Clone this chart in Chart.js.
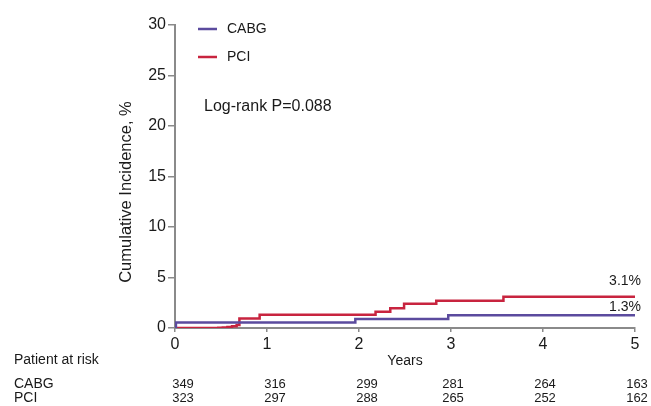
<!DOCTYPE html>
<html>
<head>
<meta charset="utf-8">
<script src="https://cdn.jsdelivr.net/npm/chart.js@4.4.1/dist/chart.umd.min.js"></script>
<style>
  html, body { margin: 0; padding: 0; background: #fff; }
  #wrap { width: 651px; height: 406px; position: relative; }
</style>
</head>
<body>
<div id="wrap"><canvas id="c" width="651" height="406"></canvas></div>
<script>
// ---- data ----
const seriesNames = ["CABG", "PCI"];
// Kaplan-Meier style cumulative incidence: [year, cumulative %] (value after that time)
const cabgTimes  = [0, 0.01, 1.96, 2.97, 5];
const cabgValues = [0, 0.55, 0.9, 1.27, 1.27];
const pciTimes   = [0, 0.41, 0.47, 0.52, 0.57, 0.62, 0.67, 0.70, 0.92, 2.18, 2.34, 2.49, 2.84, 3.57, 5];
const pciValues  = [0, 0.0, 0.02, 0.05, 0.1, 0.17, 0.3, 0.95, 1.3, 1.6, 1.95, 2.4, 2.7, 3.1, 3.1];
const yTicks = [0, 5, 10, 15, 20, 25, 30];
const xTicks = [0, 1, 2, 3, 4, 5];
const atRiskCABG = [349, 316, 299, 281, 264, 163];
const atRiskPCI  = [323, 297, 288, 265, 252, 162];
const endLabels = ["1.3%", "3.1%"];
const pValueText = "Log-rank P=0.088";

const colors = ["#5b4b9e", "#c8243f"];
const FONT = "'Liberation Sans', Arial, Helvetica, sans-serif";

function toPoints(ts, vs) { return ts.map((t, i) => ({ x: t, y: vs[i] })); }

const overlay = {
  id: 'overlay',
  afterDraw(chart) {
    const ctx = chart.ctx;
    const xs = chart.scales.x;
    ctx.save();
    ctx.fillStyle = '#1a1a1a';
    // legend
    ctx.font = '14px ' + FONT;
    ctx.textBaseline = 'middle';
    ctx.textAlign = 'left';
    const legY = [29, 57];
    chart.data.datasets.forEach((ds, i) => {
      ctx.strokeStyle = ds.borderColor;
      ctx.lineWidth = 2.5;
      ctx.beginPath();
      ctx.moveTo(198, legY[i]);
      ctx.lineTo(217, legY[i]);
      ctx.stroke();
      ctx.fillText(ds.label, 227, legY[i]);
    });
    // log-rank
    ctx.font = '16px ' + FONT;
    ctx.fillText(pValueText, 204, 107);
    // end labels
    ctx.font = '14px ' + FONT;
    ctx.textAlign = 'right';
    ctx.fillText(endLabels[1], 641, 281);
    ctx.fillText(endLabels[0], 641, 307);
    // y title
    ctx.save();
    ctx.translate(126, 192);
    ctx.rotate(-Math.PI / 2);
    ctx.textAlign = 'center';
    ctx.font = '16.5px ' + FONT;
    ctx.fillText('Cumulative Incidence, %', 0, 0);
    ctx.restore();
    // x title
    ctx.textAlign = 'center';
    ctx.font = '14px ' + FONT;
    ctx.fillText('Years', (xs.left + xs.right) / 2, 361);
    // at-risk table
    ctx.textAlign = 'left';
    ctx.fillText('Patient at risk', 14, 360);
    ctx.fillText(seriesNames[0], 14, 384);
    ctx.fillText(seriesNames[1], 14, 398);
    ctx.textAlign = 'center';
    ctx.font = '13px ' + FONT;
    xTicks.forEach((t, i) => {
      const px = xs.getPixelForValue(t) + (i < 3 ? 8 : 2);
      ctx.fillText(String(atRiskCABG[i]), px, 384);
      ctx.fillText(String(atRiskPCI[i]), px, 398);
    });
    ctx.restore();
  }
};

new Chart(document.getElementById('c'), {
  type: 'line',
  data: {
    datasets: [
      { label: seriesNames[0], data: toPoints(cabgTimes, cabgValues), borderColor: colors[0],
        borderWidth: 2.5, pointRadius: 0, stepped: 'before', fill: false },
      { label: seriesNames[1], data: toPoints(pciTimes, pciValues), borderColor: colors[1],
        borderWidth: 2.5, pointRadius: 0, stepped: 'before', fill: false }
    ]
  },
  options: {
    responsive: false,
    animation: false,
    layout: { padding: { left: 0, right: 16, top: 25, bottom: 0 } },
    plugins: { legend: { display: false }, tooltip: { enabled: false } },
    scales: {
      x: {
        type: 'linear', min: 0, max: 5,
        afterFit(s) { s.height = 78; },
        afterBuildTicks(s) { s.ticks = xTicks.map(v => ({ value: v })); },
        border: { color: '#8a8a8a', width: 2 },
        grid: { drawOnChartArea: false, drawTicks: true, tickLength: 4, color: '#8a8a8a', lineWidth: 1.5 },
        ticks: { color: '#1a1a1a', font: { family: FONT, size: 16 }, padding: 3, maxRotation: 0 }
      },
      y: {
        min: 0, max: 30,
        afterFit(s) { s.width = 175; },
        afterBuildTicks(s) { s.ticks = yTicks.map(v => ({ value: v })); },
        border: { color: '#8a8a8a', width: 2 },
        grid: { drawOnChartArea: false, drawTicks: true, tickLength: 7, color: '#8a8a8a', lineWidth: 1.5 },
        ticks: { color: '#1a1a1a', font: { family: FONT, size: 16 }, padding: 2 }
      }
    }
  },
  plugins: [overlay]
});
</script>
</body>
</html>
